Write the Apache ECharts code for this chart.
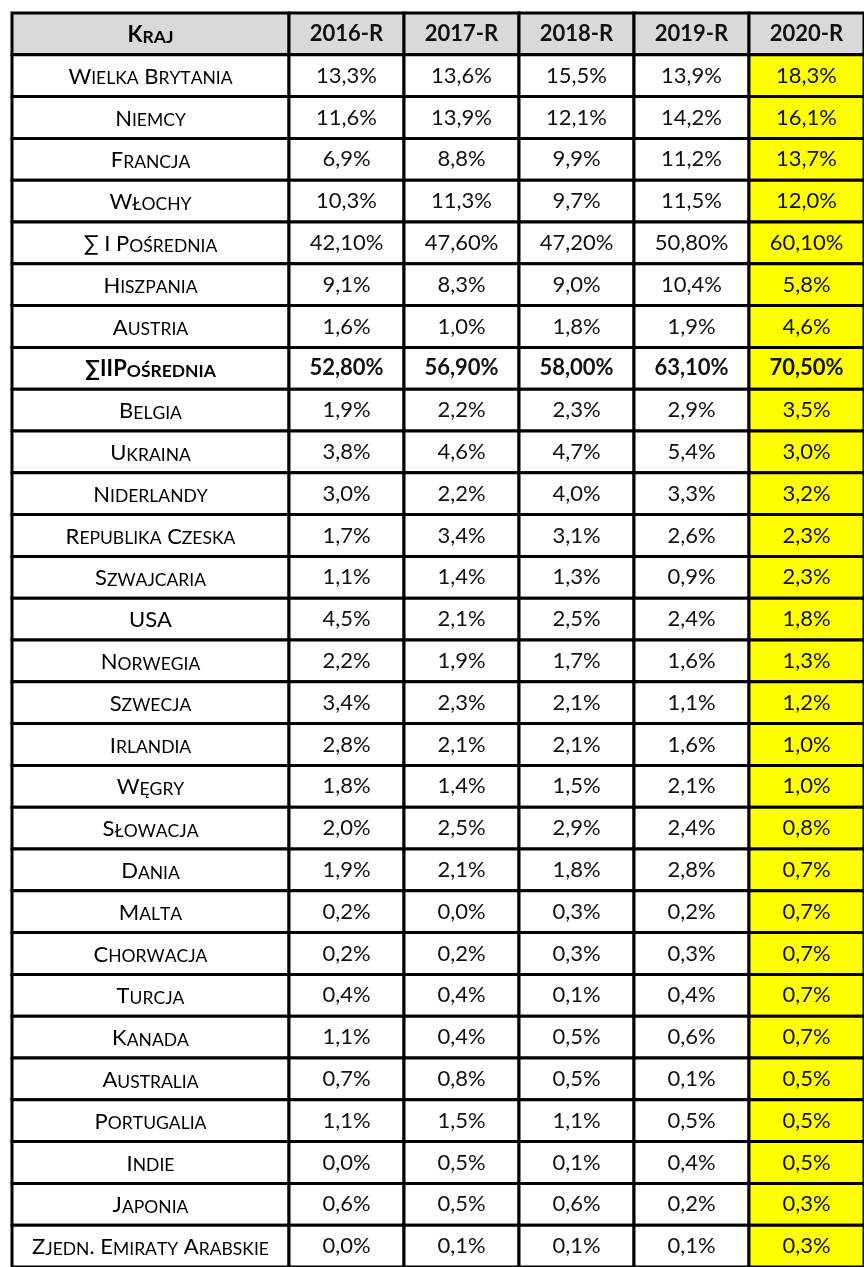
<!DOCTYPE html>
<html>
<head>
<meta charset="utf-8">
<script src="https://cdn.jsdelivr.net/npm/echarts@6/dist/echarts.min.js"></script>
<style>
  html, body { margin: 0; padding: 0; background: #fff; }
  #main { width: 864px; height: 1267px; }
</style>
</head>
<body>
<div id="main"></div>
<script>
// dane tabeli
var headerFirst = 'Kraj';
var years = ['2016-R', '2017-R', '2018-R', '2019-R', '2020-R'];
var countries = ['Wielka Brytania', 'Niemcy', 'Francja', 'Włochy', '∑ I Pośrednia', 'Hiszpania', 'Austria',
  '∑IIPośrednia', 'Belgia', 'Ukraina', 'Niderlandy', 'Republika Czeska', 'Szwajcaria', 'USA', 'Norwegia',
  'Szwecja', 'Irlandia', 'Węgry', 'Słowacja', 'Dania', 'Malta', 'Chorwacja', 'Turcja', 'Kanada',
  'Australia', 'Portugalia', 'Indie', 'Japonia', 'Zjedn. Emiraty Arabskie'];
var v2016 = [13.3, 11.6, 6.9, 10.3, 42.10, 9.1, 1.6, 52.80, 1.9, 3.8, 3.0, 1.7, 1.1, 4.5, 2.2, 3.4, 2.8, 1.8, 2.0, 1.9, 0.2, 0.2, 0.4, 1.1, 0.7, 1.1, 0.0, 0.6, 0.0];
var v2017 = [13.6, 13.9, 8.8, 11.3, 47.60, 8.3, 1.0, 56.90, 2.2, 4.6, 2.2, 3.4, 1.4, 2.1, 1.9, 2.3, 2.1, 1.4, 2.5, 2.1, 0.0, 0.2, 0.4, 0.4, 0.8, 1.5, 0.5, 0.5, 0.1];
var v2018 = [15.5, 12.1, 9.9, 9.7, 47.20, 9.0, 1.8, 58.00, 2.3, 4.7, 4.0, 3.1, 1.3, 2.5, 1.7, 2.1, 2.1, 1.5, 2.9, 1.8, 0.3, 0.3, 0.1, 0.5, 0.5, 1.1, 0.1, 0.6, 0.1];
var v2019 = [13.9, 14.2, 11.2, 11.5, 50.80, 10.4, 1.9, 63.10, 2.9, 5.4, 3.3, 2.6, 0.9, 2.4, 1.6, 1.1, 1.6, 2.1, 2.4, 2.8, 0.2, 0.3, 0.4, 0.6, 0.1, 0.5, 0.4, 0.2, 0.1];
var v2020 = [18.3, 16.1, 13.7, 12.0, 60.10, 5.8, 4.6, 70.50, 3.5, 3.0, 3.2, 2.3, 2.3, 1.8, 1.3, 1.2, 1.0, 1.0, 0.8, 0.7, 0.7, 0.7, 0.7, 0.7, 0.5, 0.5, 0.5, 0.3, 0.3];
var sumRows = [4, 7];      // wiersze sum (2 miejsca po przecinku)
var boldRows = [7];        // pogrubiony wiersz

var FONT = 'Lato';
var rows = [headerFirst].concat(countries);
var yearValues = [v2016, v2017, v2018, v2019, v2020];

function fmt(v, i) {
  return v.toFixed(sumRows.indexOf(i) >= 0 ? 2 : 1).replace('.', ',') + '%';
}

// kapitaliki: wielkie litery duże, małe litery jako mniejsze wersaliki
function smallCaps(str) {
  var out = '';
  for (var k = 0; k < str.length; k++) {
    var ch = str[k];
    if (ch === '{' || ch === '}') continue;
    if (ch !== ch.toUpperCase()) out += '{s|' + ch.toUpperCase() + '}';
    else out += '{b|' + ch + '}';
  }
  return out;
}

function richStyles(bold) {
  var w = bold ? 'bold' : 'normal';
  return {
    b: { fontFamily: FONT, fontSize: 22, fontWeight: w, color: '#111', lineHeight: 26, verticalAlign: 'bottom' },
    s: { fontFamily: FONT, fontSize: 17.5, fontWeight: w, color: '#111', lineHeight: 26, verticalAlign: 'bottom' }
  };
}

function cellShape(api, fill) {
  var c = api.coord([api.value(0), api.value(1)]);
  var s = api.size([1, 1]);
  return {
    c: c,
    rect: {
      type: 'rect',
      shape: { x: c[0] - s[0] / 2, y: c[1] - s[1] / 2, width: s[0], height: s[1] },
      style: { fill: fill, stroke: '#000', lineWidth: 3 }
    }
  };
}

var nameData = rows.map(function (r, i) { return [0, i]; });
var valueData = [];
yearValues.forEach(function (arr, j) {
  valueData.push([j, 0]);
  arr.forEach(function (v, i) { valueData.push([j, i + 1, v]); });
});

var chart = echarts.init(document.getElementById('main'));
chart.setOption({
  animation: false,
  grid: [
    { left: 12, top: 13, width: 277, height: 1258 },
    { left: 289, top: 13, width: 585, height: 1258 }
  ],
  xAxis: [
    { gridIndex: 0, type: 'category', data: [headerFirst], show: false },
    { gridIndex: 1, type: 'category', data: years, show: false }
  ],
  yAxis: [
    { gridIndex: 0, type: 'category', data: rows, inverse: true, show: false },
    { gridIndex: 1, type: 'category', data: rows, inverse: true, show: false }
  ],
  series: [
    {
      type: 'custom',
      xAxisIndex: 0, yAxisIndex: 0,
      data: nameData,
      clip: false,
      renderItem: function (params, api) {
        var i = api.value(1);
        var header = i === 0;
        var bold = header || boldRows.indexOf(i - 1) >= 0;
        var cs = cellShape(api, header ? '#d9d9d9' : '#fff');
        return {
          type: 'group',
          children: [cs.rect, {
            type: 'text', x: cs.c[0], y: cs.c[1] - 1,
            style: {
              text: smallCaps(rows[i]), rich: richStyles(bold),
              align: 'center', verticalAlign: 'middle'
            }
          }]
        };
      }
    },
    {
      type: 'custom',
      xAxisIndex: 1, yAxisIndex: 1,
      data: valueData,
      clip: false,
      renderItem: function (params, api) {
        var j = api.value(0), i = api.value(1);
        var header = i === 0;
        var bold = header || boldRows.indexOf(i - 1) >= 0;
        var fill = header ? '#d9d9d9' : (j === years.length - 1 ? '#ffff00' : '#fff');
        var cs = cellShape(api, fill);
        var txt = header ? years[j] : fmt(yearValues[j][i - 1], i - 1);
        return {
          type: 'group',
          children: [cs.rect, {
            type: 'text', x: cs.c[0], y: cs.c[1],
            style: {
              text: txt, fontFamily: FONT, fontSize: 22,
              fontWeight: bold ? 'bold' : 'normal', fill: '#111',
              align: 'center', verticalAlign: 'middle'
            }
          }]
        };
      }
    }
  ]
});
</script>
</body>
</html>
